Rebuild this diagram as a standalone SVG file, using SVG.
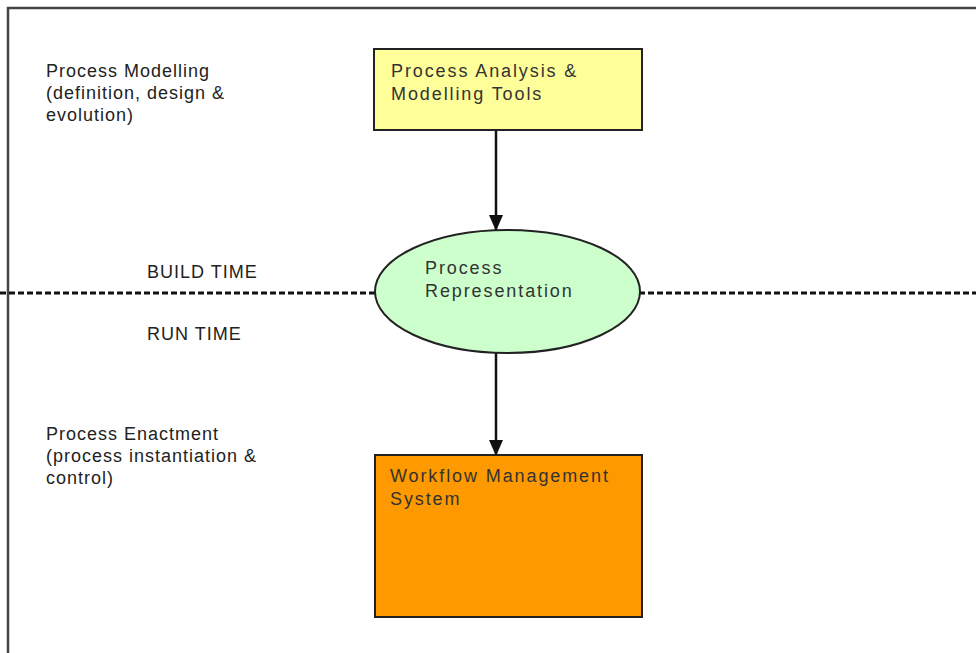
<svg xmlns="http://www.w3.org/2000/svg" width="976" height="653" viewBox="0 0 976 653">
  <defs>
    <marker id="arrowhead" markerUnits="userSpaceOnUse" markerWidth="16" markerHeight="14" refX="15" refY="7" orient="auto" viewBox="0 0 16 14">
      <path d="M0,0 L16,7 L0,14 Z" fill="#111"/>
    </marker>
  </defs>
  <style>
    .lbl { font-family: "Liberation Sans", Arial, sans-serif; font-size: 18px; letter-spacing: 1px; fill: #222; }
    .node-lbl { font-family: "Liberation Sans", Arial, sans-serif; font-size: 18px; letter-spacing: 1.9px; fill: #333; }
    .box { stroke: #222; stroke-width: 2; }
    .flow { stroke: #111; stroke-width: 2.5; fill: none; }
    .divider { stroke: #111; stroke-width: 3; stroke-dasharray: 6 3; fill: none; }
  </style>

  <rect x="0" y="0" width="976" height="653" fill="#fff"/>
  <!-- outer frame, open to the right and bottom -->
  <path d="M8,660 L8,8 L990,8" fill="none" stroke="#444" stroke-width="2.5"/>

  <!-- build time / run time divider -->
  <line class="divider" x1="0" y1="293" x2="976" y2="293"/>

  <!-- side labels -->
  <g id="label-modelling">
    <text class="lbl" x="46" y="77">Process Modelling</text>
    <text class="lbl" x="46" y="99">(definition, design &amp;</text>
    <text class="lbl" x="46" y="121">evolution)</text>
  </g>
  <g id="label-build-time">
    <text class="lbl" x="147" y="278">BUILD TIME</text>
  </g>
  <g id="label-run-time">
    <text class="lbl" x="147" y="340">RUN TIME</text>
  </g>
  <g id="label-enactment">
    <text class="lbl" x="46" y="440">Process Enactment</text>
    <text class="lbl" x="46" y="462">(process instantiation &amp;</text>
    <text class="lbl" x="46" y="484">control)</text>
  </g>

  <!-- connectors -->
  <g id="connectors">
    <line class="flow" x1="496" y1="131" x2="496" y2="230" marker-end="url(#arrowhead)"/>
    <line class="flow" x1="496" y1="353" x2="496" y2="455" marker-end="url(#arrowhead)"/>
  </g>

  <g id="node-analysis-tools">
    <rect class="box" x="374" y="49" width="268" height="81" fill="#ffff99"/>
    <text class="node-lbl" x="391" y="77">Process Analysis &amp;</text>
    <text class="node-lbl" x="391" y="100">Modelling Tools</text>
  </g>

  <g id="node-process-representation">
    <ellipse class="box" cx="507.5" cy="291.5" rx="132.5" ry="61.5" fill="#ccffcc" stroke-width="1.5"/>
    <text class="node-lbl" x="425" y="274">Process</text>
    <text class="node-lbl" x="425" y="297">Representation</text>
  </g>

  <g id="node-workflow-system">
    <rect class="box" x="375" y="455" width="267" height="162" fill="#ff9900"/>
    <text class="node-lbl" x="390" y="482" fill="#5a4a10">Workflow Management</text>
    <text class="node-lbl" x="390" y="505" fill="#5a4a10">System</text>
  </g>
</svg>
